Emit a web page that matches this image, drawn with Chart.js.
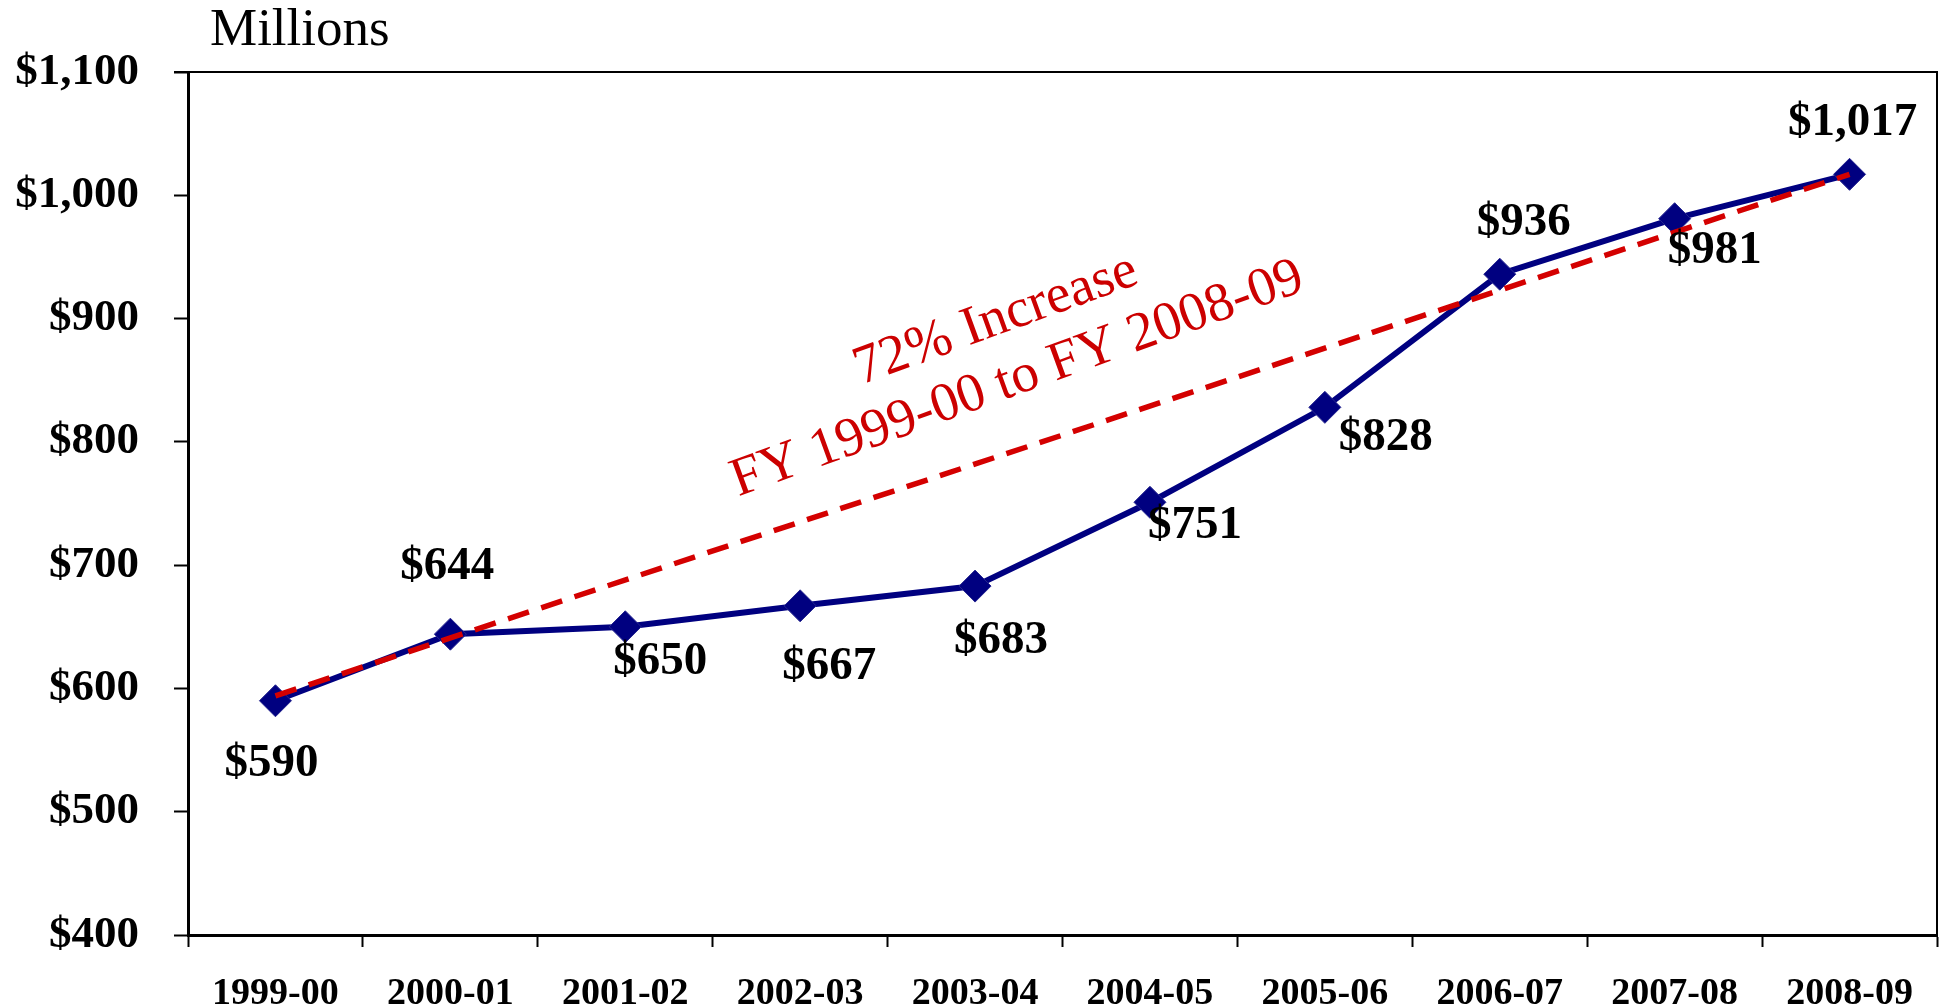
<!DOCTYPE html>
<html>
<head>
<meta charset="utf-8">
<script src="https://cdn.jsdelivr.net/npm/chart.js@4/dist/chart.umd.min.js"></script>
<style>
  body { margin: 0; background: #fff; }
</style>
</head>
<body>
<canvas id="chart" width="1954" height="1007"></canvas>
<script>
const years = ['1999-00', '2000-01', '2001-02', '2002-03', '2003-04', '2004-05', '2005-06', '2006-07', '2007-08', '2008-09'];
const spending = [590, 644, 650, 667, 683, 751, 828, 936, 981, 1017];
// trend only has its two end values, the line spans the gap
const trend = [594, null, null, null, null, null, null, null, null, 1017];
const yTicks = [400, 500, 600, 700, 800, 900, 1000, 1100];
const unitLabel = 'Millions';
const noteLines = ['72% Increase', 'FY 1999-00 to FY 2008-09'];

const serif = '"Liberation Serif", "Times New Roman", serif';

// where each value label sits relative to its point (px)
const labelOffsets = [
  [-4, 63], [-3, -67], [35, 35], [29, 61], [26, 55],
  [45, 24], [61, 31], [24, -51], [40, 32], [3, -51]
];

const fmt = v => '$' + v.toLocaleString('en-US');

const extras = {
  id: 'extras',
  afterDatasetsDraw(chart) {
    const ctx = chart.ctx;
    const area = chart.chartArea;
    const x = chart.scales.x;
    const y = chart.scales.y;

    // top and right frame
    ctx.save();
    ctx.strokeStyle = '#000';
    ctx.lineWidth = 2;
    ctx.beginPath();
    ctx.moveTo(area.left - 14, area.top);
    ctx.lineTo(area.right, area.top);
    ctx.lineTo(area.right, area.bottom);
    ctx.stroke();

    // unit label
    ctx.fillStyle = '#000';
    ctx.font = '53px ' + serif;
    ctx.textAlign = 'left';
    ctx.textBaseline = 'alphabetic';
    ctx.fillText(unitLabel, area.left + 22, area.top - 27);

    // value labels
    const meta = chart.getDatasetMeta(1);
    ctx.font = 'bold 47px ' + serif;
    ctx.textAlign = 'center';
    ctx.textBaseline = 'middle';
    meta.data.forEach((pt, i) => {
      const off = labelOffsets[i];
      ctx.fillText(fmt(spending[i]), pt.x + off[0], pt.y + off[1]);
    });

    // red note along the trend
    ctx.translate(x.getPixelForValue(4.18), y.getPixelForValue(875));
    ctx.rotate(-20 * Math.PI / 180);
    ctx.fillStyle = '#CC0000';
    ctx.font = '55px ' + serif;
    ctx.fillText(noteLines[0], 0, -31);
    ctx.fillText(noteLines[1], 0, 32);
    ctx.restore();
  }
};

new Chart(document.getElementById('chart'), {
  type: 'line',
  data: {
    labels: years,
    datasets: [{
      label: 'Trend',
      data: trend,
      spanGaps: true,
      borderColor: '#D40000',
      borderWidth: 5.5,
      borderDash: [22, 13],
      pointRadius: 0,
      fill: false,
      order: 0
    }, {
      label: 'Spending',
      data: spending,
      borderColor: '#000080',
      borderWidth: 6,
      tension: 0,
      pointStyle: 'rectRot',
      pointRadius: 16,
      pointBackgroundColor: '#000080',
      pointBorderColor: '#26268f',
      pointBorderWidth: 1,
      fill: false,
      order: 1
    }]
  },
  options: {
    responsive: false,
    animation: false,
    layout: { padding: { top: 72, right: 4, left: 0, bottom: 0 } },
    plugins: {
      legend: { display: false },
      tooltip: { enabled: false }
    },
    scales: {
      x: {
        offset: true,
        grid: {
          offset: true,
          drawOnChartArea: false,
          drawTicks: true,
          tickLength: 12,
          tickWidth: 2,
          tickColor: '#000'
        },
        border: { color: '#000', width: 3 },
        ticks: {
          color: '#000',
          padding: 24,
          maxRotation: 0,
          font: { family: serif, size: 38, weight: 'bold' }
        },
        afterFit(scale) { scale.height = 72; }
      },
      y: {
        min: 400,
        max: 1100,
        afterBuildTicks(scale) { scale.ticks = yTicks.map(v => ({ value: v })); },
        grid: {
          drawOnChartArea: false,
          drawTicks: true,
          tickLength: 14,
          tickWidth: 2,
          tickColor: '#000'
        },
        border: { color: '#000', width: 3 },
        ticks: {
          color: '#000',
          padding: 35,
          callback: v => fmt(v),
          font: { family: serif, size: 45, weight: 'bold' }
        },
        afterFit(scale) { scale.width = 188; }
      }
    }
  },
  plugins: [extras]
});
</script>
</body>
</html>
